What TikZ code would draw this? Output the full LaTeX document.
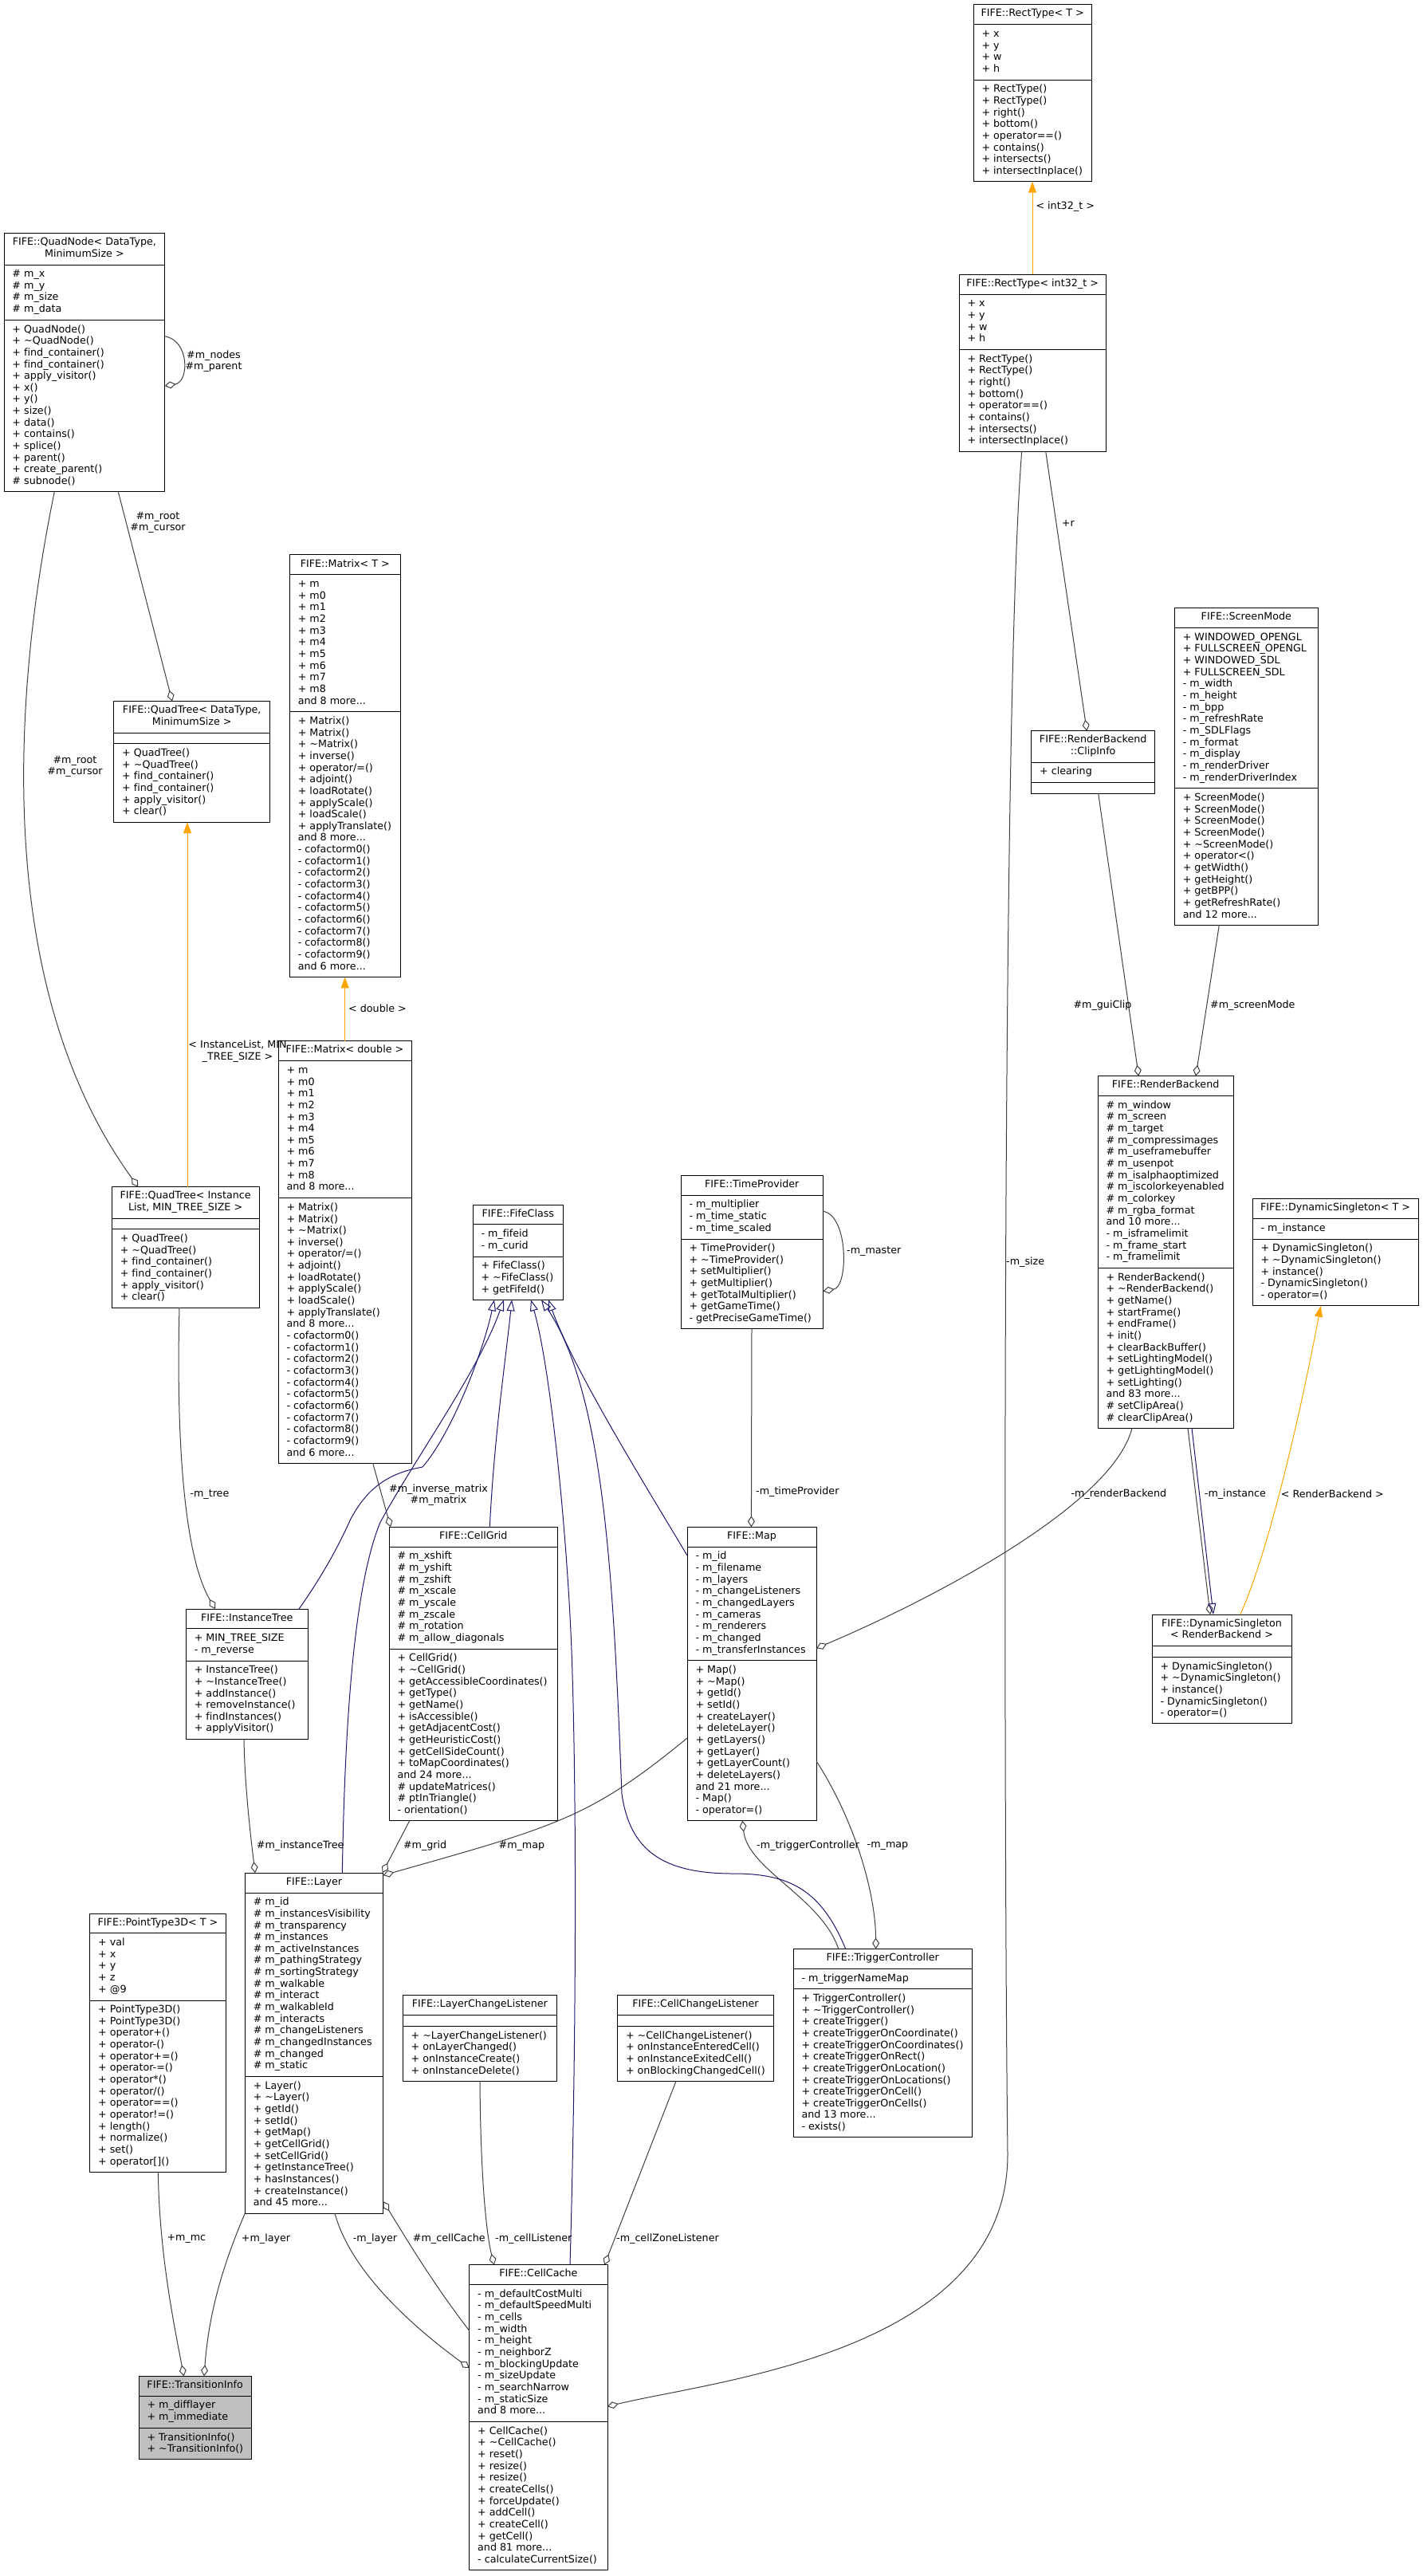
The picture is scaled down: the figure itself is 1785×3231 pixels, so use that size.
\documentclass[tikz,border=0pt]{standalone}
\usepackage{fontspec}
\setmainfont{DejaVu Sans}[Ligatures=NoCommon]
\usetikzlibrary{arrows.meta}
\definecolor{eg}{HTML}{404040}
\definecolor{eb}{HTML}{191970}
\definecolor{eo}{HTML}{FFA500}
\definecolor{tfill}{HTML}{BFBFBF}
\newcommand\fsz{\fontsize{12.7pt}{14.65pt}\selectfont}
\newlength\umlpad \setlength\umlpad{10.5pt}
\newlength\umlsec \setlength\umlsec{4.9pt}
\newlength\umlrule \setlength\umlrule{1pt}
\newcommand\umlinner[4]{%
 \vbox{\hsize=#1pt
  \kern\umlsec
  \hbox to #1pt{\hss\begin{tabular}{@{}c@{}}#2\end{tabular}\hss}%
  \kern\umlsec \hrule height\umlrule \kern\umlsec
  \hbox to #1pt{\kern\umlpad\begin{tabular}{@{}l@{}}#3\end{tabular}\hss}%
  \kern\umlsec \hrule height\umlrule \kern\umlsec
  \hbox to #1pt{\kern\umlpad\begin{tabular}{@{}l@{}}#4\end{tabular}\hss}%
  \kern\umlsec}}
\newcommand\umlbox[7][]{\node[umlnode,#1] (#2) at #3 {\umlinner{#4}{#5}{#6}{#7}};}
\tikzset{
 umlnode/.style={draw=black, line width=1pt, inner sep=0pt, outer sep=0pt, anchor=north west, font=\fsz, fill=white},
 agg/.style={draw=eg, line width=1pt, -{Diamond[open,length=14pt,width=9pt]}},
 inh/.style={draw=eb, line width=1pt, -{Triangle[open,length=14pt,width=10pt]}},
 tpl/.style={draw=eo, line width=1pt, -{Triangle[length=14pt,width=10pt,fill=eo]}},
 lbl/.style={font=\fsz, inner sep=0pt, align=center},
}
\newcommand\tl{\textasciitilde}
\begin{document}
\begin{tikzpicture}[x=1pt,y=-1pt]
\fill[white] (0,0) rectangle (1785,3231);
\useasboundingbox (0,0) rectangle (1785,3231);

% ---------- classes ----------
\umlbox{rtT}{(1221,5.8)}{148.3}{FIFE::RectType< T >}
 {+ x\\+ y\\+ w\\+ h}
 {+ RectType()\\+ RectType()\\+ right()\\+ bottom()\\+ operator==()\\+ contains()\\+ intersects()\\+ intersectInplace()}
\umlbox{rtI}{(1203,344.2)}{184.3}{FIFE::RectType< int32\_t >}
 {+ x\\+ y\\+ w\\+ h}
 {+ RectType()\\+ RectType()\\+ right()\\+ bottom()\\+ operator==()\\+ contains()\\+ intersects()\\+ intersectInplace()}
\umlbox{qnode}{(5,292.4)}{201.7}{FIFE::QuadNode< DataType,\\MinimumSize >}
 {\# m\_x\\\# m\_y\\\# m\_size\\\# m\_data}
 {+ QuadNode()\\+ \tl QuadNode()\\+ find\_container()\\+ find\_container()\\+ apply\_visitor()\\+ x()\\+ y()\\+ size()\\+ data()\\+ contains()\\+ splice()\\+ parent()\\+ create\_parent()\\\# subnode()}
\umlbox{qtD}{(142.7,879.5)}{196}{FIFE::QuadTree< DataType,\\MinimumSize >}
 {}
 {+ QuadTree()\\+ \tl QuadTree()\\+ find\_container()\\+ find\_container()\\+ apply\_visitor()\\+ clear()}
\umlbox{mT}{(363.3,695.9)}{139}{FIFE::Matrix< T >}
 {+ m\\+ m0\\+ m1\\+ m2\\+ m3\\+ m4\\+ m5\\+ m6\\+ m7\\+ m8\\and 8 more...}
 {+ Matrix()\\+ Matrix()\\+ \tl Matrix()\\+ inverse()\\+ operator/=()\\+ adjoint()\\+ loadRotate()\\+ applyScale()\\+ loadScale()\\+ applyTranslate()\\and 8 more...\\- cofactorm0()\\- cofactorm1()\\- cofactorm2()\\- cofactorm3()\\- cofactorm4()\\- cofactorm5()\\- cofactorm6()\\- cofactorm7()\\- cofactorm8()\\- cofactorm9()\\and 6 more...}
\umlbox{mD}{(349,1305.8)}{167}{FIFE::Matrix< double >}
 {+ m\\+ m0\\+ m1\\+ m2\\+ m3\\+ m4\\+ m5\\+ m6\\+ m7\\+ m8\\and 8 more...}
 {+ Matrix()\\+ Matrix()\\+ \tl Matrix()\\+ inverse()\\+ operator/=()\\+ adjoint()\\+ loadRotate()\\+ applyScale()\\+ loadScale()\\+ applyTranslate()\\and 8 more...\\- cofactorm0()\\- cofactorm1()\\- cofactorm2()\\- cofactorm3()\\- cofactorm4()\\- cofactorm5()\\- cofactorm6()\\- cofactorm7()\\- cofactorm8()\\- cofactorm9()\\and 6 more...}
\umlbox{qtIL}{(140.3,1488.5)}{184.7}{FIFE::QuadTree< Instance\\List, MIN\_TREE\_SIZE >}
 {}
 {+ QuadTree()\\+ \tl QuadTree()\\+ find\_container()\\+ find\_container()\\+ apply\_visitor()\\+ clear()}
\umlbox{itree}{(233.3,2018)}{153}{FIFE::InstanceTree}
 {+ MIN\_TREE\_SIZE\\- m\_reverse}
 {+ InstanceTree()\\+ \tl InstanceTree()\\+ addInstance()\\+ removeInstance()\\+ findInstances()\\+ applyVisitor()}
\umlbox{fife}{(593,1511)}{113.6}{FIFE::FifeClass}
 {- m\_fifeid\\- m\_curid}
 {+ FifeClass()\\+ \tl FifeClass()\\+ getFifeId()}
\umlbox{tprov}{(854,1474.3)}{178.5}{FIFE::TimeProvider}
 {- m\_multiplier\\- m\_time\_static\\- m\_time\_scaled}
 {+ TimeProvider()\\+ \tl TimeProvider()\\+ setMultiplier()\\+ getMultiplier()\\+ getTotalMultiplier()\\+ getGameTime()\\- getPreciseGameTime()}
\umlbox{clip}{(1293.7,916.7)}{155}{FIFE::RenderBackend\\::ClipInfo}
 {+ clearing}
 {}
\umlbox{smode}{(1473.3,762.7)}{180}{FIFE::ScreenMode}
 {+ WINDOWED\_OPENGL\\+ FULLSCREEN\_OPENGL\\+ WINDOWED\_SDL\\+ FULLSCREEN\_SDL\\- m\_width\\- m\_height\\- m\_bpp\\- m\_refreshRate\\- m\_SDLFlags\\- m\_format\\- m\_display\\- m\_renderDriver\\- m\_renderDriverIndex}
 {+ ScreenMode()\\+ ScreenMode()\\+ ScreenMode()\\+ ScreenMode()\\+ \tl ScreenMode()\\+ operator<()\\+ getWidth()\\+ getHeight()\\+ getBPP()\\+ getRefreshRate()\\and 12 more...}
\umlbox{rb}{(1377,1349.7)}{170.3}{FIFE::RenderBackend}
 {\# m\_window\\\# m\_screen\\\# m\_target\\\# m\_compressimages\\\# m\_useframebuffer\\\# m\_usenpot\\\# m\_isalphaoptimized\\\# m\_iscolorkeyenabled\\\# m\_colorkey\\\# m\_rgba\_format\\and 10 more...\\- m\_isframelimit\\- m\_frame\_start\\- m\_framelimit}
 {+ RenderBackend()\\+ \tl RenderBackend()\\+ getName()\\+ startFrame()\\+ endFrame()\\+ init()\\+ clearBackBuffer()\\+ setLightingModel()\\+ getLightingModel()\\+ setLighting()\\and 83 more...\\\# setClipArea()\\\# clearClipArea()}
\umlbox{dsT}{(1571,1503.8)}{208}{FIFE::DynamicSingleton< T >}
 {- m\_instance}
 {+ DynamicSingleton()\\+ \tl DynamicSingleton()\\+ instance()\\- DynamicSingleton()\\- operator=()}
\umlbox{dsRB}{(1445,2025)}{175}{FIFE::DynamicSingleton\\< RenderBackend >}
 {}
 {+ DynamicSingleton()\\+ \tl DynamicSingleton()\\+ instance()\\- DynamicSingleton()\\- operator=()}
\umlbox{cgrid}{(488,1915.3)}{211.6}{FIFE::CellGrid}
 {\# m\_xshift\\\# m\_yshift\\\# m\_zshift\\\# m\_xscale\\\# m\_yscale\\\# m\_zscale\\\# m\_rotation\\\# m\_allow\_diagonals}
 {+ CellGrid()\\+ \tl CellGrid()\\+ getAccessibleCoordinates()\\+ getType()\\+ getName()\\+ isAccessible()\\+ getAdjacentCost()\\+ getHeuristicCost()\\+ getCellSideCount()\\+ toMapCoordinates()\\and 24 more...\\\# updateMatrices()\\\# ptInTriangle()\\- orientation()}
\umlbox{map}{(862,1915.3)}{162.1}{FIFE::Map}
 {- m\_id\\- m\_filename\\- m\_layers\\- m\_changeListeners\\- m\_changedLayers\\- m\_cameras\\- m\_renderers\\- m\_changed\\- m\_transferInstances}
 {+ Map()\\+ \tl Map()\\+ getId()\\+ setId()\\+ createLayer()\\+ deleteLayer()\\+ getLayers()\\+ getLayer()\\+ getLayerCount()\\+ deleteLayers()\\and 21 more...\\- Map()\\- operator=()}
\umlbox{layer}{(307.3,2349.1)}{173.4}{FIFE::Layer}
 {\# m\_id\\\# m\_instancesVisibility\\\# m\_transparency\\\# m\_instances\\\# m\_activeInstances\\\# m\_pathingStrategy\\\# m\_sortingStrategy\\\# m\_walkable\\\# m\_interact\\\# m\_walkableId\\\# m\_interacts\\\# m\_changeListeners\\\# m\_changedInstances\\\# m\_changed\\\# m\_static}
 {+ Layer()\\+ \tl Layer()\\+ getId()\\+ setId()\\+ getMap()\\+ getCellGrid()\\+ setCellGrid()\\+ getInstanceTree()\\+ hasInstances()\\+ createInstance()\\and 45 more...}
\umlbox{pt3d}{(112.7,2400)}{170.6}{FIFE::PointType3D< T >}
 {+ val\\+ x\\+ y\\+ z\\+ @9}
 {+ PointType3D()\\+ PointType3D()\\+ operator+()\\+ operator-()\\+ operator+=()\\+ operator-=()\\+ operator*()\\+ operator/()\\+ operator==()\\+ operator!=()\\+ length()\\+ normalize()\\+ set()\\+ operator[]()}
\umlbox[fill=tfill]{tinfo}{(174,2980.3)}{141.3}{FIFE::TransitionInfo}
 {+ m\_difflayer\\+ m\_immediate}
 {+ TransitionInfo()\\+ \tl TransitionInfo()}
\umlbox{tc}{(995,2444.4)}{224.4}{FIFE::TriggerController}
 {- m\_triggerNameMap}
 {+ TriggerController()\\+ \tl TriggerController()\\+ createTrigger()\\+ createTriggerOnCoordinate()\\+ createTriggerOnCoordinates()\\+ createTriggerOnRect()\\+ createTriggerOnLocation()\\+ createTriggerOnLocations()\\+ createTriggerOnCell()\\+ createTriggerOnCells()\\and 13 more...\\- exists()}
\umlbox{lcl}{(505.1,2502.7)}{193.4}{FIFE::LayerChangeListener}
 {}
 {+ \tl LayerChangeListener()\\+ onLayerChanged()\\+ onInstanceCreate()\\+ onInstanceDelete()}
\umlbox{ccl}{(774.5,2502.7)}{195.9}{FIFE::CellChangeListener}
 {}
 {+ \tl CellChangeListener()\\+ onInstanceEnteredCell()\\+ onInstanceExitedCell()\\+ onBlockingChangedCell()}
\umlbox{ccache}{(588.7,2840.7)}{173.3}{FIFE::CellCache}
 {- m\_defaultCostMulti\\- m\_defaultSpeedMulti\\- m\_cells\\- m\_width\\- m\_height\\- m\_neighborZ\\- m\_blockingUpdate\\- m\_sizeUpdate\\- m\_searchNarrow\\- m\_staticSize\\and 8 more...}
 {+ CellCache()\\+ \tl CellCache()\\+ reset()\\+ resize()\\+ resize()\\+ createCells()\\+ forceUpdate()\\+ addCell()\\+ createCell()\\+ getCell()\\and 81 more...\\- calculateCurrentSize()}

% ---------- template instantiation (orange) ----------
\draw[tpl] ([xshift=92pt]rtI.north west) -- ([xshift=74pt]rtT.south west);
\draw[tpl] ([xshift=94.7pt]qtIL.north west) -- ([xshift=92.3pt]qtD.south west);
\draw[tpl] ([xshift=83.7pt]mD.north west) -- ([xshift=69.4pt]mT.south west);
\draw[tpl] ([xshift=110.7pt]dsRB.north west) .. controls (1590,1950) and (1630,1780) .. ([xshift=85.7pt]dsT.south west);

% ---------- members (gray, diamond at owner) ----------
\draw[agg] ([xshift=108.7pt]rtI.south west) -- ([xshift=69.6pt]clip.north west);
\draw[agg] ([xshift=78.7pt]rtI.south west) .. controls (1255,900) and (1260,2400) .. (1264,2700) .. controls (1266,2950) and (900,2985) .. ([yshift=-177.6pt]ccache.north east);
\draw[agg] ([yshift=-129.4pt]qnode.north east) .. controls +(31,5) and +(31,-5) .. ([yshift=-191.6pt]qnode.north east);
\draw[agg] ([xshift=143.3pt]qnode.south west) -- ([xshift=73.3pt]qtD.north west);
\draw[agg] ([xshift=63.3pt]qnode.south west) .. controls (10,900) and (0,1250) .. ([xshift=33pt]qtIL.north west);
\draw[agg] ([xshift=118.7pt]mD.south west) -- ([xshift=2pt]cgrid.north west);
\draw[agg] ([xshift=84.7pt]qtIL.south west) .. controls (221,1800) and (230,1950) .. ([xshift=36.7pt]itree.north west);
\draw[agg] ([xshift=72.7pt]itree.south west) .. controls (307,2240) and (314,2300) .. ([xshift=12.7pt]layer.north west);
\draw[agg] ([xshift=25.8pt]cgrid.south west) -- ([xshift=-1pt]layer.north east);
\draw[agg] ([yshift=-264.7pt]map.north west) .. controls (740,2280) and (700,2290) .. ([yshift=-3pt]layer.north east);
\draw[agg] ([yshift=-45pt]tprov.north east) .. controls +(32,5) and +(32,-5) .. ([yshift=-145pt]tprov.north east);
\draw[agg] ([xshift=89pt]tprov.south west) -- ([xshift=80.4pt]map.north west);
\draw[agg] ([xshift=84pt]clip.south west) -- ([xshift=51.3pt]rb.north west);
\draw[agg] ([xshift=56pt]smode.south west) -- ([xshift=123pt]rb.north west);
\draw[agg] ([xshift=43pt]rb.south west) .. controls (1395,1890) and (1160,2010) .. ([yshift=-152pt]map.north east);
\draw[agg] ([xshift=113pt]rb.south west) -- ([xshift=73pt]dsRB.north west);
\draw[agg] ([xshift=56.8pt]tc.north west) .. controls (1030,2380) and (938,2345) .. ([xshift=69.3pt]map.south west);
\draw[agg] ([yshift=-293.7pt]map.north east) .. controls (1070,2280) and (1098,2370) .. ([xshift=103.7pt]tc.north west);
\draw[agg] ([xshift=85.6pt]pt3d.south west) .. controls (200,2820) and (215,2900) .. ([xshift=56.7pt]tinfo.north west);
\draw[agg] (layer.south west) .. controls (280,2840) and (262,2900) .. ([xshift=82pt]tinfo.north west);
\draw[agg] ([xshift=112.7pt]layer.south west) .. controls (440,2850) and (520,2920) .. ([yshift=-129.3pt]ccache.north west);
\draw[agg] ([yshift=-82.6pt]ccache.north west) .. controls (540,2860) and (505,2800) .. ([yshift=-412.1pt]layer.north east);
\draw[agg] ([xshift=96.9pt]lcl.south west) .. controls (603,2750) and (612,2810) .. ([xshift=31.2pt]ccache.north west);
\draw[agg] ([xshift=73.5pt]ccl.south west) -- ([xshift=169.6pt]ccache.north west);

% ---------- inheritance (blue) ----------
\draw[inh] ([xshift=118pt]rb.south west) -- ([xshift=77pt]dsRB.north west);
\draw[inh] ([xshift=141.7pt]itree.north west) .. controls (395,1990) and (420,1950) .. (440,1905) .. controls (460,1868) and (485,1848) .. (530,1840) .. controls (565,1800) and (605,1700) .. ([xshift=27pt]fife.south west);
\draw[inh] ([xshift=122pt]layer.north west) .. controls (432,2200) and (440,2000) .. (476.7,1910) .. controls (520,1830) and (600,1720) .. ([xshift=39pt]fife.south west);
\draw[inh] ([xshift=126.3pt]cgrid.north west) .. controls (620,1800) and (635,1700) .. ([xshift=49pt]fife.south west);
\draw[inh] ([xshift=126.3pt]ccache.north west) .. controls (722,2600) and (724,2300) .. (718,2100) .. controls (714,1950) and (692,1720) .. ([xshift=73pt]fife.south west);
\draw[inh] ([xshift=65.7pt]tc.north west) .. controls (1030,2370) and (990,2350) .. (920,2350) .. controls (830,2350) and (790,2320) .. (780,2250) .. controls (770,2000) and (760,1750) .. ([xshift=86pt]fife.south west);
\draw[inh] ([yshift=-35.7pt]map.north west) .. controls (820,1880) and (720,1720) .. ([xshift=95pt]fife.south west);

% ---------- labels ----------
\node[lbl,anchor=west] (l1) at (1299.3,259.3) {< int32\_t >};
\node[lbl,anchor=west] (l2) at (1331.7,656.8) {+r};
\node[lbl,anchor=west] (l3) at (1262,1583) {-m\_size};
\node[lbl] (l4) at (268,453) {\#m\_nodes\\\#m\_parent};
\node[lbl] (l5) at (198,655.6) {\#m\_root\\\#m\_cursor};
\node[lbl] (l6) at (94,961.5) {\#m\_root\\\#m\_cursor};
\node[lbl] (l7) at (298,1318.5) {< InstanceList, MIN\\\_TREE\_SIZE >};
\node[lbl,anchor=west] (l8) at (437,1265) {< double >};
\node[lbl] (l9) at (550,1875) {\#m\_inverse\_matrix\\\#m\_matrix};
\node[lbl,anchor=west] (l10) at (238.3,1874.6) {-m\_tree};
\node[lbl,anchor=west] (l11) at (321.7,2315.3) {\#m\_instanceTree};
\node[lbl,anchor=west] (l12) at (505.8,2315.6) {\#m\_grid};
\node[lbl,anchor=west] (l13) at (625.4,2315.6) {\#m\_map};
\node[lbl,anchor=west] (l14) at (949,2315.6) {-m\_triggerController};
\node[lbl,anchor=west] (l15) at (1087.5,2315.6) {-m\_map};
\node[lbl,anchor=west] (l16) at (1062,1570) {-m\_master};
\node[lbl,anchor=west] (l17) at (948,1871) {-m\_timeProvider};
\node[lbl] (l18) at (1383,1261) {\#m\_guiClip};
\node[lbl,anchor=west] (l19) at (1518,1261) {\#m\_screenMode};
\node[lbl,anchor=east] (l20) at (1463.3,1874.2) {-m\_renderBackend};
\node[lbl,anchor=west] (l21) at (1510.7,1874.2) {-m\_instance};
\node[lbl,anchor=west] (l22) at (1606.7,1874.2) {< RenderBackend >};
\node[lbl,anchor=west] (l23) at (209.3,2808) {+m\_mc};
\node[lbl,anchor=west] (l24) at (302.7,2808) {+m\_layer};
\node[lbl,anchor=west] (l25) at (442.7,2808) {-m\_layer};
\node[lbl,anchor=west] (l26) at (517.7,2808) {\#m\_cellCache};
\node[lbl,anchor=west] (l27) at (621,2808) {-m\_cellListener};
\node[lbl,anchor=west] (l28) at (773,2808) {-m\_cellZoneListener};
\end{tikzpicture}
\end{document}
